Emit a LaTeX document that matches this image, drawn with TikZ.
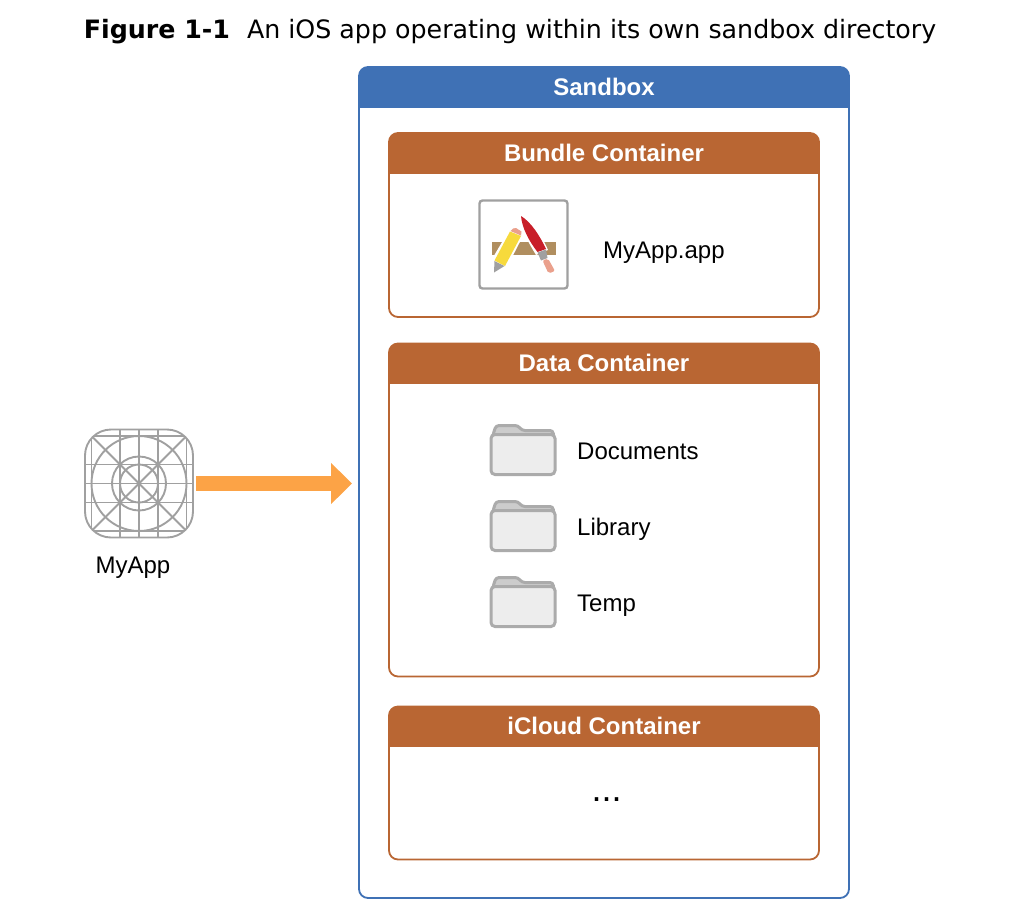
\documentclass[tikz,border=0pt]{standalone}
\usepackage{fontspec}
\setmainfont{Liberation Sans}
\newfontfamily\titlefont{DejaVu Sans}
\usetikzlibrary{arrows.meta}
\definecolor{sandboxblue}{HTML}{3F71B5}
\definecolor{containerbrown}{HTML}{B96633}
\definecolor{arroworange}{HTML}{FCA346}
\definecolor{icongray}{HTML}{A0A0A0}
\definecolor{foldergray}{HTML}{ABABAB}
\definecolor{barbrown}{HTML}{B08E5F}
\definecolor{pencilyellow}{HTML}{F7DA3C}
\definecolor{brushred}{HTML}{C81E28}
\definecolor{tippink}{HTML}{EAA08C}
\tikzset{
	container/.style n args={4}{draw=#1, line width=1.8, rounded corners=#4, inner sep=0, outer sep=0,
		minimum width=#2, minimum height=#3},
	headfill/.style 2 args={path picture={\fill[#1, sharp corners] (path picture bounding box.north west) rectangle
		([yshift=-#2]path picture bounding box.north east);}},
	headlabel/.style={text=white, font=\fontsize{24}{24}\selectfont\bfseries},
	itemlabel/.style={font=\fontsize{24}{24}\selectfont, anchor=base west, inner sep=0},
	iconline/.style={draw=icongray, line width=1.9},
	flowarrow/.style={draw=arroworange, line width=15, -{Triangle[length=21, width=40]}},
	pics/folder/.style={code={
		\draw[draw=foldergray, fill=black!20, line width=3, rounded corners=3]
			(2,10) -- (5,1) -- (27,1) -- (31,6) -- (62,6) -- (63,16) -- (2,16) -- cycle;
		\draw[draw=foldergray, fill=black!7, line width=3, rounded corners=4]
			(0,10) rectangle (64,50);
	}}
}
\begin{document}
\begin{tikzpicture}[x=1pt, y=-1pt]
	\useasboundingbox (0,0) rectangle (1012,922);
	\node[font=\titlefont\fontsize{25.3}{25.3}\selectfont, anchor=base] (caption) at (510,38) {\textbf{Figure 1-1}\hspace{17pt}An iOS app operating within its own sandbox directory};
	% containers
	\node[container={sandboxblue}{490}{831}{9}, headfill={sandboxblue}{41}] (sandbox) at (604,482.5) {};
	\node[headlabel] (sandboxlabel) at (604,87) {Sandbox};
	\node[container={containerbrown}{430}{184}{9}, headfill={containerbrown}{41}] (bundle) at (604,225) {};
	\node[headlabel] (bundlelabel) at (604,153) {Bundle Container};
	\node[container={containerbrown}{430}{333}{9}, headfill={containerbrown}{40.5}] (data) at (604,510) {};
	\node[headlabel] (datalabel) at (604,363) {Data Container};
	\node[container={containerbrown}{430}{153}{9}, headfill={containerbrown}{40.5}] (icloud) at (604,783) {};
	\node[headlabel] (icloudlabel) at (604,726) {iCloud Container};
	\node[font=\fontsize{36}{36}\selectfont, anchor=base] (dots) at (606.7,801) {...};
	% app icon
	\node[draw=icongray, line width=1.9, rounded corners=26, inner sep=0, outer sep=0, minimum size=108] (appicon) at (139,483.5) {};
	\begin{scope}
		\clip[rounded corners=26] (appicon.south west) rectangle (appicon.north east);
		\foreach \k in {-47.5,-19,0,19,47.5} {
			\draw[iconline] ([xshift=\k]appicon.north) -- ([xshift=\k]appicon.south);
			\draw[iconline] ([yshift=\k]appicon.west) -- ([yshift=\k]appicon.east);
		}
		\draw[iconline] (appicon.north west) -- (appicon.south east);
		\draw[iconline] (appicon.north east) -- (appicon.south west);
		\foreach \r in {47.5,27,19} \draw[iconline] (appicon.center) circle (\r);
	\end{scope}
	\node[itemlabel, anchor=base] (myapp) at (133,573.5) {MyApp};
	\draw[flowarrow] (appicon.east) ++(3,0) -- ++(156,0) coordinate (arrowend);
	% xcode icon
	\node[draw=icongray, fill=white, line width=2.4, rounded corners=3, inner sep=0, minimum size=88] (xcode) at (523.5,244.5) {};
	\fill[barbrown] (491.5,241.5) rectangle (555.5,254.5);
	\fill[white] (511,227) -- (524,234) -- (506,269) -- (492,275) -- (492,259) -- cycle;
	\fill[pencilyellow] (510,231.5) -- (521,236) -- (505,266) -- (494.5,260.5) -- cycle;
	\fill[tippink] (510.5,231) -- (521,235.5) -- (521.5,231.5) -- (516,228) -- (513,228.5) -- cycle;
	\fill[icongray] (494.5,261) -- (504.5,266) -- (494,272.5) -- cycle;
	\fill[white] (519,213) .. controls (531,220) and (541,234) .. (548,250) -- (536,255) .. controls (527,240) and (519,226) .. cycle;
	\fill[brushred] (521,216) .. controls (531,222) and (540,236) .. (546,249) -- (537.5,252) .. controls (529,241) and (522,228) .. cycle;
	\fill[icongray] (537.5,252.5) -- (546,249.5) -- (547.5,258) -- (541,260.5) -- cycle;
	\fill[tippink, rounded corners=2] (542.5,260.5) -- (548,258.5) -- (555,271) -- (548.5,273.5) -- cycle;
	\node[itemlabel] (appname) at (603,258) {MyApp.app};
	% folders
	\path (491,424.5) pic {folder};
	\path (491,500.5) pic {folder};
	\path (491,576.5) pic {folder};
	\node[itemlabel] (documents) at (577,459) {Documents};
	\node[itemlabel] (library) at (577,535) {Library};
	\node[itemlabel] (temp) at (577,611) {Temp};
\end{tikzpicture}
\end{document}
